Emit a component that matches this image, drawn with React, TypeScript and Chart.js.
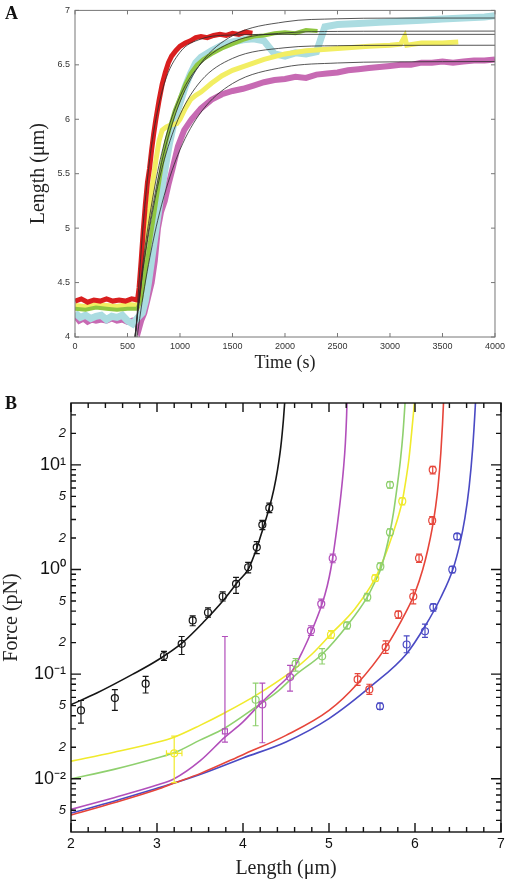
import React, { useEffect, useRef } from "react";
import { Chart, registerables } from "chart.js";
Chart.register(...registerables);

const SERIF = "'Liberation Serif', 'Times New Roman', serif";
const SANS = "'Liberation Sans', Arial, sans-serif";

// ---------------- Panel A: length vs time ----------------
const aXTicksStep = 500;
const aYTicksStep = 0.5;

const redT = [0,60,120,180,240,300,360,420,480,540,595,610,630,650,670,690,710,730,750,770,800,830,860,890,920,960,1000,1050,1100,1150,1200,1260,1320,1380,1440,1500,1560,1620,1690];
const redL = [4.33,4.35,4.32,4.34,4.33,4.35,4.33,4.34,4.33,4.35,4.34,4.45,4.70,4.98,5.22,5.42,5.55,5.72,5.87,6.00,6.17,6.32,6.43,6.52,6.58,6.63,6.67,6.70,6.72,6.75,6.76,6.75,6.77,6.78,6.77,6.79,6.78,6.80,6.79];

const yellowT = [0,100,200,300,400,500,595,620,650,680,710,740,770,800,830,870,920,970,1000,1050,1100,1150,1200,1300,1400,1500,1650,1800,2000,2200,2500,2800,3000,3100,3140,3160,3300,3500,3650];
const yellowL = [4.29,4.28,4.30,4.29,4.28,4.30,4.29,4.45,4.72,4.98,5.18,5.42,5.62,5.80,5.90,5.93,5.95,5.96,6.00,6.10,6.18,6.22,6.25,6.33,6.40,6.45,6.50,6.55,6.60,6.63,6.65,6.67,6.68,6.69,6.76,6.68,6.70,6.70,6.71];

const greenT = [0,100,200,300,400,500,595,630,670,710,750,790,830,870,910,950,1000,1050,1100,1160,1220,1300,1400,1500,1600,1700,1800,1900,2000,2100,2200,2310];
const greenL = [4.26,4.25,4.27,4.26,4.25,4.26,4.26,4.35,4.60,4.85,5.10,5.35,5.60,5.80,5.95,6.08,6.20,6.32,6.42,6.50,6.55,6.60,6.65,6.69,6.73,6.76,6.77,6.79,6.80,6.79,6.82,6.81];

const cyanT = [0,50,100,150,200,250,300,350,400,450,500,550,600,640,670,700,740,780,810,850,900,950,1000,1050,1100,1150,1200,1300,1400,1500,1600,1700,1800,1850,1900,2000,2100,2200,2300,2380,2500,2700,2900,3100,3300,3500,3700,3900,4000];
const cyanL = [4.22,4.18,4.20,4.17,4.19,4.20,4.16,4.19,4.18,4.20,4.15,4.12,4.18,4.22,4.33,4.50,4.78,5.05,5.25,5.50,5.78,6.00,6.15,6.30,6.42,6.52,6.57,6.63,6.68,6.71,6.73,6.74,6.72,6.66,6.60,6.58,6.61,6.60,6.62,6.85,6.87,6.88,6.89,6.90,6.91,6.92,6.93,6.94,6.95];

const magT = [0,40,80,120,160,200,250,300,350,400,450,500,550,590,610,630,660,700,730,760,790,820,855,890,930,980,1040,1110,1200,1300,1400,1500,1600,1700,1800,1900,2000,2100,2200,2300,2400,2500,2600,2700,2800,2900,3000,3100,3200,3300,3400,3500,3600,3700,3800,3900,4000];
const magL = [4.20,4.15,4.17,4.14,4.16,4.15,4.16,4.15,4.17,4.15,4.16,4.14,4.15,4.14,4.08,4.15,4.22,4.38,4.50,4.70,5.00,5.15,5.25,5.40,5.55,5.75,5.90,6.00,6.10,6.18,6.23,6.26,6.28,6.31,6.34,6.36,6.37,6.39,6.38,6.41,6.42,6.43,6.45,6.46,6.47,6.48,6.49,6.50,6.50,6.52,6.52,6.53,6.52,6.53,6.54,6.54,6.55];

// exponential fits (thin black lines)
const fitT = [560,650,750,850,1000,1200,1500,2000,2500,3000,4000];
const cyanFit = [3.91,4.645,5.254,5.702,6.159,6.516,6.767,6.895,6.923,6.929,6.93];
const greenFit = [3.90,4.70,5.33,5.78,6.21,6.51,6.71,6.793,6.807,6.809,6.81];
const yellowFit = [3.91,4.627,5.209,5.627,6.04,6.353,6.559,6.657,6.676,6.679,6.68];
const magFit = [3.78,4.389,4.908,5.301,5.72,6.065,6.328,6.48,6.517,6.527,6.53];
const redFitT = [580,600,650,700,750,850,1000,1200,1500,2000,4000];
const redFit = [4.0,4.35,5.04,5.538,5.89,6.326,6.615,6.737,6.774,6.78,6.78];

// ---------------- Panel B: force vs length ----------------
const blackL = [2.116,2.51,2.868,3.081,3.287,3.415,3.593,3.764,3.919,4.06,4.16,4.225,4.306];
const blackF = [0.045,0.059,0.081,0.149,0.195,0.326,0.388,0.552,0.73,1.05,1.63,2.67,3.88];
const blackLo = [0.034,0.045,0.066,0.135,0.154,0.29,0.35,0.50,0.59,0.93,1.42,2.4,3.5];
const blackHi = [0.056,0.071,0.095,0.165,0.229,0.36,0.43,0.61,0.84,1.17,1.85,2.95,4.3];

const magPL = [3.79,4.225,4.547,4.79,4.91,5.043];
const magPF = [0.0284,0.0514,0.0937,0.261,0.47,1.28];
const magPLo = [0.0224,0.0221,0.0687,0.235,0.43,1.16];
const magPHi = [0.229,0.082,0.121,0.29,0.52,1.4];

const greenPL = [4.147,4.612,4.92,5.21,5.445,5.597,5.709,5.709];
const greenPF = [0.0569,0.126,0.148,0.292,0.544,1.07,2.27,6.44];
const greenPLo = [0.0321,0.107,0.125,0.27,0.50,0.99,2.1,6.0];
const greenPHi = [0.082,0.141,0.175,0.315,0.59,1.16,2.45,6.9];

const yellowPL = [3.20,5.023,5.538,5.852];
const yellowPF = [0.0175,0.238,0.826,4.5];
const yellowPLo = [0.0092,0.22,0.77,4.15];
const yellowPHi = [0.0256,0.26,0.89,4.85];
const yellowPXLo = [3.11,null,null,null];
const yellowPXHi = [3.29,null,null,null];

const redPL = [5.333,5.469,5.659,5.806,5.98,6.047,6.2,6.206];
const redPF = [0.089,0.0714,0.181,0.372,0.552,1.28,2.94,8.96];
const redPLo = [0.078,0.064,0.158,0.34,0.47,1.17,2.7,8.2];
const redPHi = [0.101,0.08,0.208,0.40,0.64,1.4,3.2,9.7];

const bluePL = [5.593,5.903,6.116,6.213,6.434,6.49];
const bluePF = [0.0492,0.192,0.257,0.436,1.0,2.07];
const bluePLo = [0.046,0.16,0.225,0.40,0.93,1.93];
const bluePHi = [0.053,0.232,0.30,0.47,1.07,2.2];

const blackCurveL = [2.0,2.3,2.72,3.0,3.29,3.55,3.77,3.95,4.06,4.16,4.225,4.306,4.36,4.40,4.44,4.47,4.49,4.5];
const blackCurveF = [0.051,0.066,0.10,0.135,0.198,0.32,0.506,0.78,1.0,1.6,2.35,3.9,5.9,8.8,15,27,45,62];
const magCurveL = [2.0,2.5,3.0,3.2,3.5,3.79,4.0,4.2,4.4,4.55,4.7,4.8,4.92,4.98,5.02,5.06,5.1,5.14,5.17,5.19,5.205,5.215];
const magCurveF = [0.0051,0.0066,0.0087,0.01,0.0148,0.025,0.035,0.052,0.075,0.1,0.17,0.26,0.47,0.7,1.0,1.6,2.8,5.3,9.5,16,30,60];
const greenCurveL = [2.0,2.5,3.0,3.2,3.5,3.79,4.15,4.4,4.61,4.92,5.21,5.445,5.53,5.6,5.66,5.709,5.75,5.79,5.83,5.86,5.885,5.9];
const greenCurveF = [0.01,0.0123,0.0158,0.0177,0.0234,0.0306,0.0485,0.068,0.098,0.155,0.29,0.544,0.75,1.0,1.5,2.27,3.5,6.0,11,20,40,65];
const yellowCurveL = [2.0,2.5,3.0,3.2,3.5,3.79,4.15,4.55,4.8,5.02,5.3,5.538,5.65,5.75,5.81,5.852,5.89,5.93,5.96,5.985,6.0,6.015];
const yellowCurveF = [0.0147,0.0179,0.0223,0.025,0.0324,0.0428,0.0627,0.104,0.155,0.24,0.42,0.826,1.35,2.3,3.3,4.5,6.8,11.5,20,33,45,65];
const redCurveL = [2.0,2.5,3.0,3.2,3.5,4.0,4.5,5.0,5.33,5.66,5.9,6.0,6.09,6.15,6.2,6.24,6.27,6.30,6.32,6.34];
const redCurveF = [0.0045,0.0059,0.0079,0.0091,0.0112,0.017,0.026,0.045,0.081,0.18,0.4,0.6,1.0,1.56,2.47,3.98,6.46,12.9,24.5,56];
const blueCurveL = [2.0,2.5,3.0,3.2,3.5,4.0,4.5,5.0,5.5,5.9,6.12,6.3,6.44,6.52,6.58,6.63,6.67,6.70,6.72];
const blueCurveF = [0.0047,0.0061,0.0081,0.0091,0.011,0.0158,0.0225,0.0376,0.078,0.156,0.29,0.54,1.0,1.74,3.1,6.2,14.2,35,76];

// ---------------- helpers ----------------
const zip = (xs: number[], ys: number[]) =>
  xs.slice(0, Math.min(xs.length, ys.length)).map((x, i) => ({ x, y: ys[i] }));

const SUP: Record<string, string> = { "-": "\u207B", "0": "\u2070", "1": "\u00B9", "2": "\u00B2", "3": "\u00B3" };
const decomp = (v: number) => {
  const e = Math.floor(Math.log10(v) + 1e-9);
  const s = Math.round((v / Math.pow(10, e)) * 100) / 100;
  return { e, s };
};
const logLabel = (v: number) => {
  const { e, s } = decomp(v);
  if (s === 1) return "10" + String(e).split("").map((c) => SUP[c] || c).join("");
  if (s === 2 || s === 5) return String(s);
  return "";
};

function framePlugin(id: string, color: string, width: number, xMarks: (s: any) => { v: number; len: number }[], yMarks: (s: any) => { v: number; len: number }[]) {
  return {
    id,
    afterDatasetsDraw(chart: any) {
      const { ctx, chartArea: a, scales } = chart;
      ctx.save();
      ctx.strokeStyle = color;
      ctx.lineWidth = width;
      ctx.beginPath();
      for (const m of xMarks(scales.x)) {
        const px = scales.x.getPixelForValue(m.v);
        ctx.moveTo(px, a.bottom); ctx.lineTo(px, a.bottom - m.len);
        ctx.moveTo(px, a.top); ctx.lineTo(px, a.top + m.len);
      }
      for (const m of yMarks(scales.y)) {
        const py = scales.y.getPixelForValue(m.v);
        ctx.moveTo(a.left, py); ctx.lineTo(a.left + m.len, py);
        ctx.moveTo(a.right, py); ctx.lineTo(a.right - m.len, py);
      }
      ctx.stroke();
      ctx.strokeRect(a.left, a.top, a.right - a.left, a.bottom - a.top);
      ctx.restore();
    },
  };
}

const errorBarPlugin = {
  id: "errorBars",
  afterDatasetsDraw(chart: any) {
    const { ctx, chartArea: a } = chart;
    const xs = chart.scales.x, ys = chart.scales.y;
    ctx.save();
    ctx.beginPath();
    ctx.rect(a.left, a.top, a.right - a.left, a.bottom - a.top);
    ctx.clip();
    chart.data.datasets.forEach((ds: any) => {
      if (!ds.errLo) return;
      ctx.strokeStyle = ds.borderColor;
      ctx.lineWidth = 1.2;
      ds.data.forEach((p: any, j: number) => {
        const px = xs.getPixelForValue(p.x);
        const py = ys.getPixelForValue(p.y);
        const y1 = ys.getPixelForValue(ds.errLo[j]);
        const y2 = ys.getPixelForValue(ds.errHi[j]);
        ctx.beginPath();
        ctx.moveTo(px, y1); ctx.lineTo(px, y2);
        ctx.moveTo(px - 3, y1); ctx.lineTo(px + 3, y1);
        ctx.moveTo(px - 3, y2); ctx.lineTo(px + 3, y2);
        if (ds.xErrLo && ds.xErrLo[j] != null) {
          const x1 = xs.getPixelForValue(ds.xErrLo[j]);
          const x2 = xs.getPixelForValue(ds.xErrHi[j]);
          ctx.moveTo(x1, py); ctx.lineTo(x2, py);
          ctx.moveTo(x1, py - 3); ctx.lineTo(x1, py + 3);
          ctx.moveTo(x2, py - 3); ctx.lineTo(x2, py + 3);
        }
        ctx.stroke();
      });
    });
    ctx.restore();
  },
};

// ---------------- chart configs ----------------
function traceDs(t: number[], l: number[], color: string, w: number) {
  return { data: zip(t, l), showLine: true, borderColor: color, backgroundColor: color, borderWidth: w, pointRadius: 0, tension: 0, clip: 0 };
}
function fitDs(t: number[], l: number[]) {
  return { data: zip(t, l), showLine: true, borderColor: "#2b2b2b", borderWidth: 0.8, pointRadius: 0, cubicInterpolationMode: "monotone", clip: 0 };
}

function buildA(): any {
  return {
    type: "scatter",
    data: {
      datasets: [
        fitDs(fitT, cyanFit),
        fitDs(fitT, greenFit),
        fitDs(fitT, yellowFit),
        fitDs(fitT, magFit),
        fitDs(redFitT, redFit),
        traceDs(redT, redL, "#d91f1f", 5),
        traceDs(greenT, greenL, "#8fc641", 4),
        traceDs(yellowT, yellowL, "#f2ee62", 5),
        traceDs(cyanT, cyanL, "#abdce1", 7),
        traceDs(magT, magL, "#c76ab3", 6),
      ],
    },
    options: {
      animation: false,
      responsive: false,
      devicePixelRatio: 1,
      layout: { padding: { left: 0, right: 13, top: 6, bottom: 0 } },
      plugins: { legend: { display: false }, tooltip: { enabled: false } },
      scales: {
        x: {
          type: "linear", min: 0, max: 4000,
          ticks: { stepSize: aXTicksStep, autoSkip: false, maxRotation: 0, padding: 4, color: "#333", font: { family: SANS, size: 9 }, callback: (v: number) => String(v) },
          grid: { display: false, drawTicks: false }, border: { display: false },
          title: { display: true, text: "Time (s)", color: "#222", font: { family: SERIF, size: 18 }, padding: { top: 0, bottom: 6 } },
          afterFit: (s: any) => { s.height = 43; },
        },
        y: {
          type: "linear", min: 4, max: 7,
          ticks: { stepSize: aYTicksStep, autoSkip: false, padding: 5, color: "#333", font: { family: SANS, size: 9 }, callback: (v: number) => String(v) },
          grid: { display: false, drawTicks: false }, border: { display: false },
          title: { display: true, text: "Length (\u03BCm)", color: "#222", font: { family: SERIF, size: 20 }, padding: { top: 27, bottom: 0 } },
          afterFit: (s: any) => { s.width = 75; },
        },
      },
    },
    plugins: [
      framePlugin("frameA", "#777", 1,
        (s) => s.ticks.map((t: any) => ({ v: t.value, len: 4 })),
        (s) => s.ticks.map((t: any) => ({ v: t.value, len: 4 }))),
    ],
  };
}

function pointsDs(l: number[], f: number[], lo: number[], hi: number[], color: string, extra: any = {}) {
  return { data: zip(l, f), errLo: lo, errHi: hi, borderColor: color, backgroundColor: "rgba(255,255,255,0)", pointRadius: 3.5, pointBorderWidth: 1.2, pointStyle: "circle", showLine: false, clip: 0, ...extra };
}
function curveDs(l: number[], f: number[], color: string) {
  return { data: zip(l, f), showLine: true, borderColor: color, borderWidth: 1.6, pointRadius: 0, cubicInterpolationMode: "monotone", clip: 0 };
}

const C_BLACK = "#151515", C_MAG = "#b24fbb", C_GREEN = "#8fd06e", C_YEL = "#f0ea2c", C_RED = "#e6453a", C_BLUE = "#4a4ac4";

function buildB(): any {
  return {
    type: "scatter",
    data: {
      datasets: [
        pointsDs(blackL, blackF, blackLo, blackHi, C_BLACK),
        pointsDs(magPL, magPF, magPLo, magPHi, C_MAG, { pointStyle: ["rect", "circle", "circle", "circle", "circle", "circle"] }),
        pointsDs(greenPL, greenPF, greenPLo, greenPHi, C_GREEN),
        pointsDs(yellowPL, yellowPF, yellowPLo, yellowPHi, C_YEL, { xErrLo: yellowPXLo, xErrHi: yellowPXHi }),
        pointsDs(redPL, redPF, redPLo, redPHi, C_RED),
        pointsDs(bluePL, bluePF, bluePLo, bluePHi, C_BLUE),
        curveDs(blackCurveL, blackCurveF, C_BLACK),
        curveDs(magCurveL, magCurveF, C_MAG),
        curveDs(greenCurveL, greenCurveF, C_GREEN),
        curveDs(yellowCurveL, yellowCurveF, C_YEL),
        curveDs(redCurveL, redCurveF, C_RED),
        curveDs(blueCurveL, blueCurveF, C_BLUE),
      ],
    },
    options: {
      animation: false,
      responsive: false,
      devicePixelRatio: 1,
      layout: { padding: { left: 0, right: 8, top: 23, bottom: 0 } },
      plugins: { legend: { display: false }, tooltip: { enabled: false } },
      scales: {
        x: {
          type: "linear", min: 2, max: 7,
          ticks: {
            stepSize: 0.2, autoSkip: false, maxRotation: 0, padding: 4, color: "#111", font: { family: SANS, size: 14 },
            callback: (v: number) => (Math.abs(v - Math.round(v)) < 1e-6 ? String(Math.round(v)) : ""),
          },
          grid: { display: false, drawTicks: false }, border: { display: false },
          title: { display: true, text: "Length (\u03BCm)", color: "#222", font: { family: SERIF, size: 20 }, padding: { top: 0, bottom: 1 } },
          afterFit: (s: any) => { s.height = 50; },
        },
        y: {
          type: "logarithmic", min: 0.0031, max: 39,
          ticks: {
            autoSkip: false, padding: 5, color: "#111",
            callback: (v: number) => logLabel(v),
            font: (ctx: any) => {
              const v = ctx && ctx.tick ? ctx.tick.value : 1;
              return decomp(v).s === 1 ? { family: SANS, size: 18 } : { family: SANS, size: 13, style: "italic" };
            },
          },
          grid: { display: false, drawTicks: false }, border: { display: false },
          title: { display: true, text: "Force (pN)", color: "#222", font: { family: SERIF, size: 20 }, padding: { top: 0, bottom: 0 } },
          afterFit: (s: any) => { s.width = 71; },
        },
      },
    },
    plugins: [
      errorBarPlugin,
      framePlugin("frameB", "#111", 1.4,
        (s) => s.ticks.map((t: any) => ({ v: t.value, len: Math.abs(t.value - Math.round(t.value)) < 1e-6 ? 9 : 5 })),
        (s) => {
          const out: { v: number; len: number }[] = [];
          for (let e = -3; e <= 1; e++) {
            for (let k = 1; k <= 9; k++) {
              const v = k * Math.pow(10, e);
              if (v >= s.min && v <= s.max) out.push({ v, len: k === 1 ? 10 : 5 });
            }
          }
          return out;
        }),
    ],
  };
}

export default function App() {
  const aRef = useRef<HTMLCanvasElement>(null);
  const bRef = useRef<HTMLCanvasElement>(null);
  useEffect(() => {
    const a = new Chart(aRef.current as HTMLCanvasElement, buildA());
    const b = new Chart(bRef.current as HTMLCanvasElement, buildB());
    return () => {
      a.destroy();
      b.destroy();
    };
  }, []);
  return (
    <div style={{ position: "fixed", left: 0, top: 0, width: 509, height: 882, background: "#fff", overflow: "hidden" }}>
      <canvas ref={aRef} width={509} height={380} style={{ position: "absolute", left: 0, top: 0, width: 509, height: 380 }} />
      <canvas ref={bRef} width={509} height={502} style={{ position: "absolute", left: 0, top: 380, width: 509, height: 502 }} />
      <div style={{ position: "absolute", left: 5, top: 3, font: `bold 18px ${SERIF}`, color: "#111" }}>A</div>
      <div style={{ position: "absolute", left: 5, top: 393, font: `bold 18px ${SERIF}`, color: "#111" }}>B</div>
    </div>
  );
}
